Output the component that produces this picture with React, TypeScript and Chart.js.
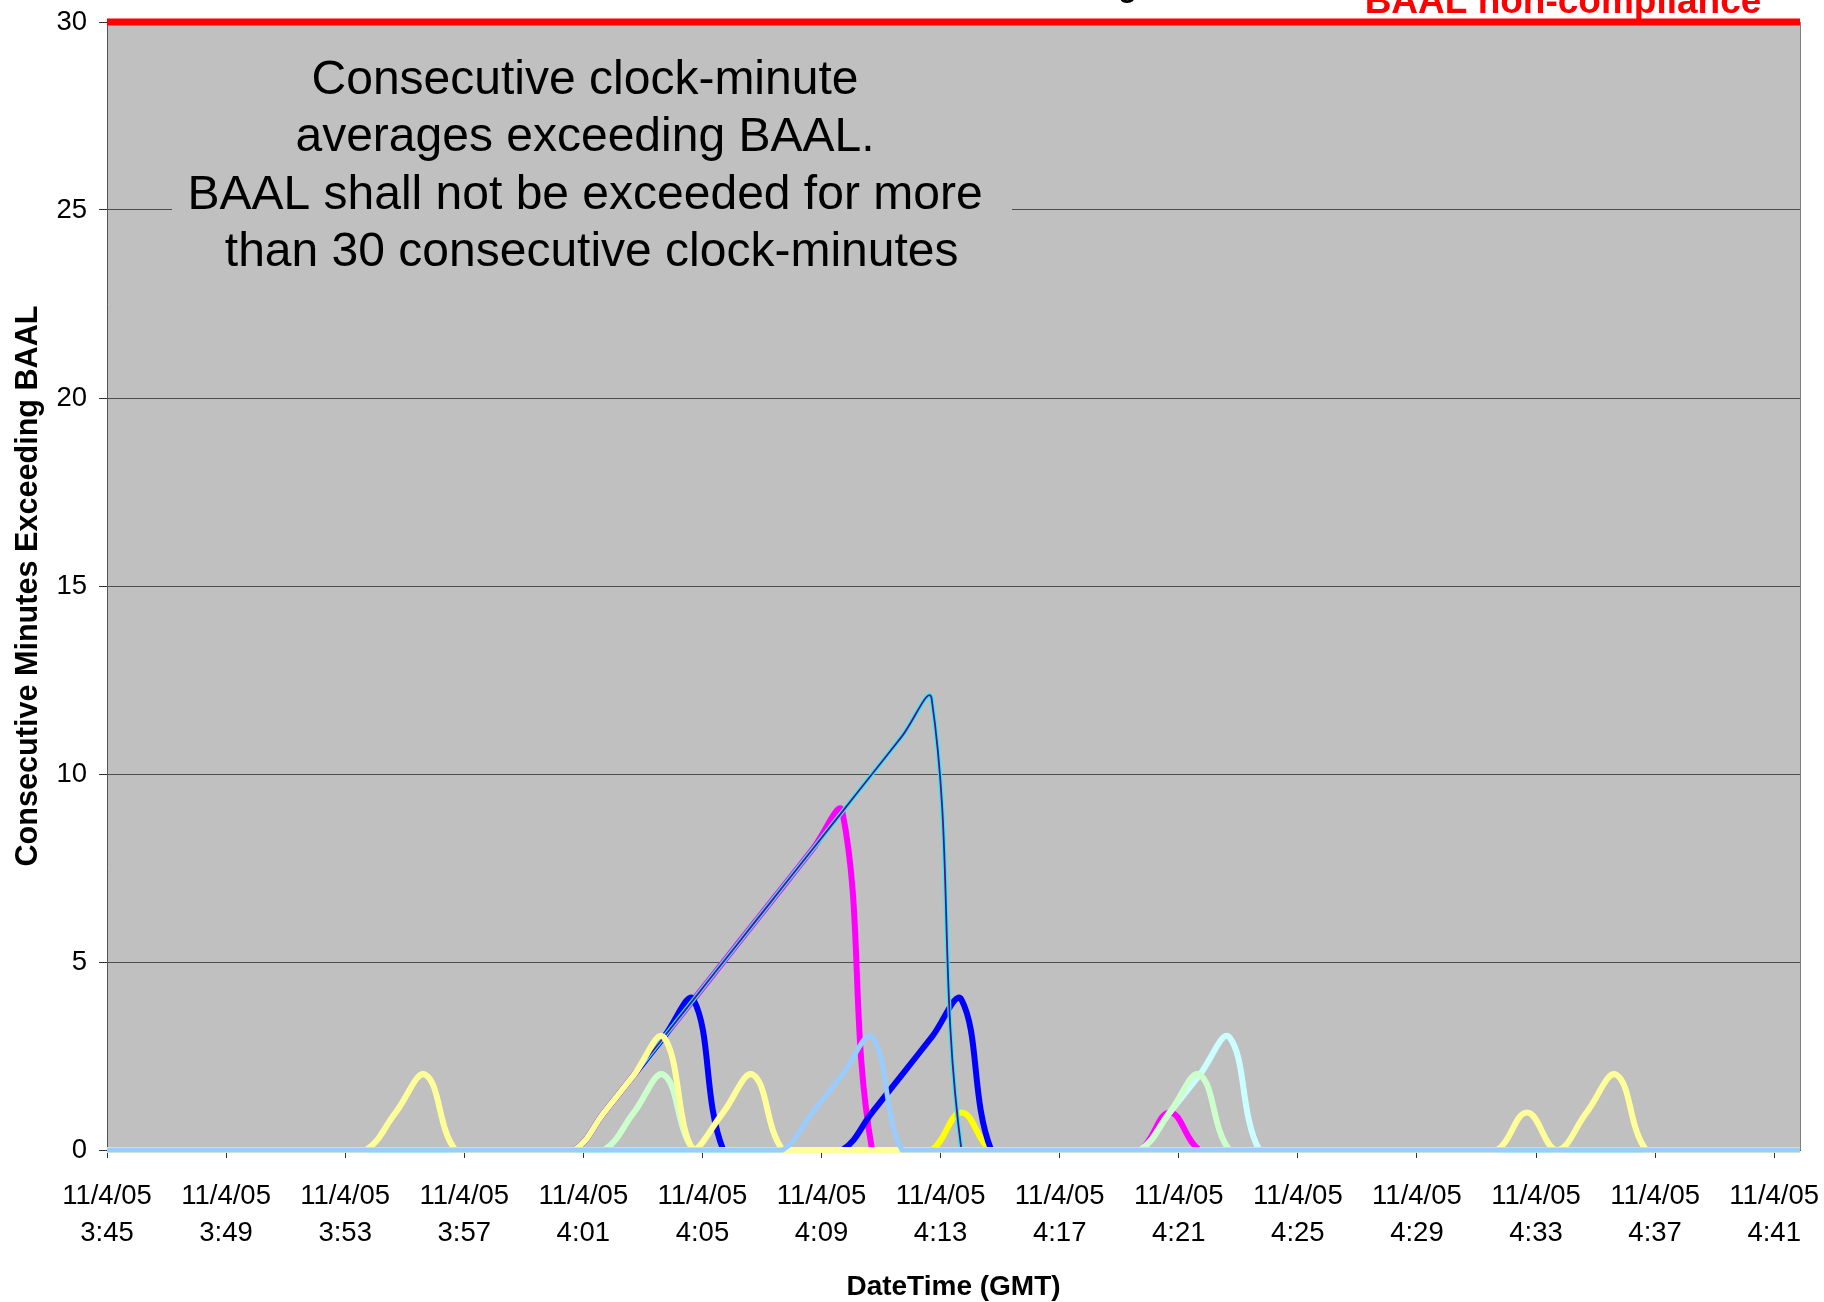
import React, { useEffect, useRef } from 'react';
import { Chart, registerables } from 'chart.js';

Chart.register(...registerables);

// ---------- data ----------
const DATE_LABEL = '11/4/05';
const AXIS_START = '3:45:00';
const AXIS_END = '4:41:52';

// one clock-minute average per minute
const SAMPLE_TIMES = [
  '3:44:42', '3:45:42', '3:46:42', '3:47:42', '3:48:42', '3:49:42', '3:50:42', '3:51:42', '3:52:42', '3:53:42',
  '3:54:42', '3:55:42', '3:56:42', '3:57:42', '3:58:42', '3:59:42', '4:00:42', '4:01:42', '4:02:42', '4:03:42',
  '4:04:42', '4:05:42', '4:06:42', '4:07:42', '4:08:42', '4:09:42', '4:10:42', '4:11:42', '4:12:42', '4:13:42',
  '4:14:42', '4:15:42', '4:16:42', '4:17:42', '4:18:42', '4:19:42', '4:20:42', '4:21:42', '4:22:42', '4:23:42',
  '4:24:42', '4:25:42', '4:26:42', '4:27:42', '4:28:42', '4:29:42', '4:30:42', '4:31:42', '4:32:42', '4:33:42',
  '4:34:42', '4:35:42', '4:36:42', '4:37:42', '4:38:42', '4:39:42', '4:40:42', '4:41:42', '4:42:42',
];

const TICK_TIMES = ['3:45', '3:49', '3:53', '3:57', '4:01', '4:05', '4:09', '4:13', '4:17', '4:21', '4:25', '4:29', '4:33', '4:37', '4:41'];
const Y_TICKS_STEP = 5;
const Y_MAX = 30;

const BAAL_LIMIT = [
  30, 30, 30, 30, 30, 30, 30, 30, 30, 30,
  30, 30, 30, 30, 30, 30, 30, 30, 30, 30,
  30, 30, 30, 30, 30, 30, 30, 30, 30, 30,
  30, 30, 30, 30, 30, 30, 30, 30, 30, 30,
  30, 30, 30, 30, 30, 30, 30, 30, 30, 30,
  30, 30, 30, 30, 30, 30, 30, 30, 30,
];
const SITE_PURPLE = [
  0, 0, 0, 0, 0, 0, 0, 0, 0, 0,
  0, 0, 0, 0, 0, 0, 0, 1, 2, 3,
  4, 5, 6, 7, 8, 9, 10, 11, 12, 0,
  0, 0, 0, 0, 0, 0, 0, 0, 0, 0,
  0, 0, 0, 0, 0, 0, 0, 0, 0, 0,
  0, 0, 0, 0, 0, 0, 0, 0, 0,
];
const SITE_CYAN = [
  0, 0, 0, 0, 0, 0, 0, 0, 0, 0,
  0, 0, 0, 0, 0, 0, 0, 1, 2, 3,
  4, 5, 6, 7, 8, 9, 10, 11, 12, 0,
  0, 0, 0, 0, 0, 0, 0, 0, 0, 0,
  0, 0, 0, 0, 0, 0, 0, 0, 0, 0,
  0, 0, 0, 0, 0, 0, 0, 0, 0,
];
const SITE_LIGHT_BLUE = [
  0, 0, 0, 0, 0, 0, 0, 0, 0, 0,
  0, 0, 0, 0, 0, 0, 0, 0, 0, 0,
  0, 0, 0, 0, 1, 2, 3, 0, 0, 0,
  0, 0, 0, 0, 0, 0, 0, 0, 0, 0,
  0, 0, 0, 0, 0, 0, 0, 0, 0, 0,
  0, 0, 0, 0, 0, 0, 0, 0, 0,
];
const SITE_LIGHT_YELLOW = [
  0, 0, 0, 0, 0, 0, 0, 0, 0, 0,
  1, 2, 0, 0, 0, 0, 0, 1, 2, 3,
  0, 1, 2, 0, 0, 0, 0, 0, 0, 0,
  0, 0, 0, 0, 0, 0, 0, 0, 0, 0,
  0, 0, 0, 0, 0, 0, 0, 0, 1, 0,
  1, 2, 0, 0, 0, 0, 0, 0, 0,
];
const SITE_LIGHT_GREEN = [
  0, 0, 0, 0, 0, 0, 0, 0, 0, 0,
  0, 0, 0, 0, 0, 0, 0, 0, 1, 2,
  0, 0, 0, 0, 0, 0, 0, 0, 0, 0,
  0, 0, 0, 0, 0, 0, 1, 2, 0, 0,
  0, 0, 0, 0, 0, 0, 0, 0, 0, 0,
  0, 0, 0, 0, 0, 0, 0, 0, 0,
];
const SITE_LIGHT_CYAN = [
  0, 0, 0, 0, 0, 0, 0, 0, 0, 0,
  0, 0, 0, 0, 0, 0, 0, 0, 0, 0,
  0, 0, 0, 0, 0, 0, 0, 0, 0, 0,
  0, 0, 0, 0, 0, 0, 1, 2, 3, 0,
  0, 0, 0, 0, 0, 0, 0, 0, 0, 0,
  0, 0, 0, 0, 0, 0, 0, 0, 0,
];
const SITE_BLUE = [
  0, 0, 0, 0, 0, 0, 0, 0, 0, 0,
  0, 0, 0, 0, 0, 0, 0, 1, 2, 3,
  4, 0, 0, 0, 0, 0, 1, 2, 3, 4,
  0, 0, 0, 0, 0, 0, 0, 0, 0, 0,
  0, 0, 0, 0, 0, 0, 0, 0, 0, 0,
  0, 0, 0, 0, 0, 0, 0, 0, 0,
];
const SITE_YELLOW = [
  0, 0, 0, 0, 0, 0, 0, 0, 0, 0,
  0, 0, 0, 0, 0, 0, 0, 0, 0, 0,
  0, 0, 0, 0, 0, 0, 0, 0, 0, 1,
  0, 0, 0, 0, 0, 0, 0, 0, 0, 0,
  0, 0, 0, 0, 0, 0, 0, 0, 0, 0,
  0, 0, 0, 0, 0, 0, 0, 0, 0,
];
const SITE_MAGENTA = [
  0, 0, 0, 0, 0, 0, 0, 0, 0, 0,
  0, 0, 0, 0, 0, 0, 0, 1, 2, 3,
  4, 5, 6, 7, 8, 9, 0, 0, 0, 0,
  0, 0, 0, 0, 0, 0, 1, 0, 0, 0,
  0, 0, 0, 0, 0, 0, 0, 0, 0, 0,
  0, 0, 0, 0, 0, 0, 0, 0, 0,
];

const ANNOTATION_LINES = [
  'Consecutive clock-minute',
  'averages exceeding BAAL.',
  'BAAL shall not be exceeded for more',
  ' than 30 consecutive clock-minutes',
];
const LIMIT_LABEL = 'BAAL non-compliance';
const CHART_TITLE = 'Consecutive Minutes Exceeding BAAL';
const X_TITLE = 'DateTime (GMT)';
const Y_TITLE = 'Consecutive Minutes Exceeding BAAL';

// ---------- helpers ----------
const toMinutes = (t: string) => {
  const [h, m, s] = t.split(':');
  return Number(h) * 60 + Number(m) + Number(s || 0) / 60;
};
const fromStart = (t: string) => toMinutes(t) - toMinutes(AXIS_START);

const FONT = "'Liberation Sans', Arial, Helvetica, sans-serif";

const W = 1824;
const H = 1302;

export default function App() {
  const ref = useRef<HTMLCanvasElement | null>(null);

  useEffect(() => {
    const canvas = ref.current;
    if (!canvas) return;
    Chart.defaults.font.family = FONT;
    Chart.defaults.color = '#000';

    const mk = (values: number[], color: string, width: number, extra: any = {}) => ({
      data: SAMPLE_TIMES.map((t, i) => ({ x: fromStart(t), y: values[i] })),
      borderColor: color,
      backgroundColor: color,
      borderWidth: width,
      pointRadius: 0,
      fill: false,
      tension: 0.4,
      clip: { left: 0, right: 0, top: 6, bottom: 4 },
      ...extra,
    });

    // first dataset is drawn on top
    const datasets = [
      mk(BAAL_LIMIT, '#FF0000', 7, { tension: 0, clip: { left: 0, right: 0, top: 10, bottom: 0 } }),
      mk(SITE_LIGHT_BLUE, '#99CCFF', 5),
      mk(SITE_LIGHT_YELLOW, '#FFFF99', 6),
      mk(SITE_PURPLE, '#800080', 1.8),
      mk(SITE_CYAN, '#00FFFF', 4.2),
      mk(SITE_LIGHT_GREEN, '#CCFFCC', 6),
      mk(SITE_LIGHT_CYAN, '#CCFFFF', 6),
      mk(SITE_BLUE, '#0000FF', 6),
      mk(SITE_YELLOW, '#FFFF00', 6),
      mk(SITE_MAGENTA, '#FF00FF', 6),
    ];

    const plotBg = {
      id: 'plotBg',
      beforeDraw(chart: any) {
        const { ctx, chartArea: a } = chart;
        ctx.save();
        ctx.fillStyle = '#C0C0C0';
        ctx.fillRect(a.left, a.top, a.right - a.left, a.bottom - a.top);
        ctx.restore();
      },
    };

    const overlay = {
      id: 'overlay',
      afterDraw(chart: any) {
        const { ctx, chartArea: a } = chart;
        ctx.save();
        // right plot border
        ctx.strokeStyle = '#808080';
        ctx.lineWidth = 1;
        ctx.beginPath();
        ctx.moveTo(Math.round(a.right) + 0.5, a.top);
        ctx.lineTo(Math.round(a.right) + 0.5, a.bottom);
        ctx.stroke();

        // annotation text box
        ctx.fillStyle = '#C0C0C0';
        ctx.fillRect(172, 45, 840, 235);
        ctx.fillStyle = '#000';
        ctx.font = `48px ${FONT}`;
        ctx.textAlign = 'center';
        ctx.textBaseline = 'middle';
        ANNOTATION_LINES.forEach((line, i) => {
          ctx.fillText(line, 585, 80.5 + i * 57.4);
        });

        // chart title (mostly above the canvas edge)
        ctx.font = `bold 30px ${FONT}`;
        ctx.textBaseline = 'alphabetic';
        ctx.fillText(CHART_TITLE, (a.left + a.right) / 2, -3.5);

        // limit label
        ctx.fillStyle = '#FF0000';
        ctx.font = `bold 37px ${FONT}`;
        ctx.fillText(LIMIT_LABEL, 1563, 12.7);
        ctx.restore();
      },
    };

    const chart = new Chart(canvas, {
      type: 'line',
      data: { datasets } as any,
      options: {
        animation: false,
        responsive: false,
        devicePixelRatio: 1,
        layout: { padding: { top: 22, right: 24, bottom: 0, left: 0 } },
        plugins: {
          legend: { display: false },
          tooltip: { enabled: false },
          title: { display: false },
        },
        elements: { point: { radius: 0 }, line: { borderCapStyle: 'round', borderJoinStyle: 'round' } },
        scales: {
          x: {
            type: 'linear',
            min: 0,
            max: fromStart(AXIS_END),
            afterFit: (s: any) => {
              s.height = 152;
              s.paddingLeft = 0;
              s.paddingRight = 0;
            },
            afterBuildTicks: (s: any) => {
              s.ticks = TICK_TIMES.map((t) => ({ value: fromStart(t + ':00') }));
            },
            ticks: {
              autoSkip: false,
              maxRotation: 0,
              minRotation: 0,
              padding: 20,
              color: '#000',
              font: { size: 27.5, lineHeight: 1.34 },
              callback: (_v: any, i: number) => [DATE_LABEL, TICK_TIMES[i]],
            },
            grid: {
              display: true,
              drawOnChartArea: false,
              drawTicks: true,
              tickLength: 8,
              tickColor: '#333',
              tickWidth: 1,
            },
            border: { display: true, color: '#555', width: 1 },
            title: {
              display: true,
              text: X_TITLE,
              color: '#000',
              font: { size: 28, weight: 'bold' },
              padding: { top: 0, bottom: -2 },
            },
          },
          y: {
            min: 0,
            max: Y_MAX,
            afterFit: (s: any) => {
              s.width = 107;
              s.paddingTop = 0;
              s.paddingBottom = 0;
            },
            ticks: {
              stepSize: Y_TICKS_STEP,
              padding: 12,
              color: '#000',
              font: { size: 27.5 },
            },
            grid: {
              color: '#4d4d4d',
              lineWidth: 1,
              tickLength: 8,
              tickColor: '#333',
            },
            border: { display: true, color: '#555', width: 1 },
            title: {
              display: true,
              text: Y_TITLE,
              color: '#000',
              font: { size: 30.6, weight: 'bold' },
              padding: { top: 10, bottom: 0 },
            },
          },
        },
      } as any,
      plugins: [plotBg, overlay],
    });

    return () => chart.destroy();
  }, []);

  return (
    <div style={{ position: 'absolute', left: 0, top: 0, width: W, height: H, background: '#fff' }}>
      <canvas ref={ref} width={W} height={H} style={{ display: 'block', width: W, height: H }} />
    </div>
  );
}
